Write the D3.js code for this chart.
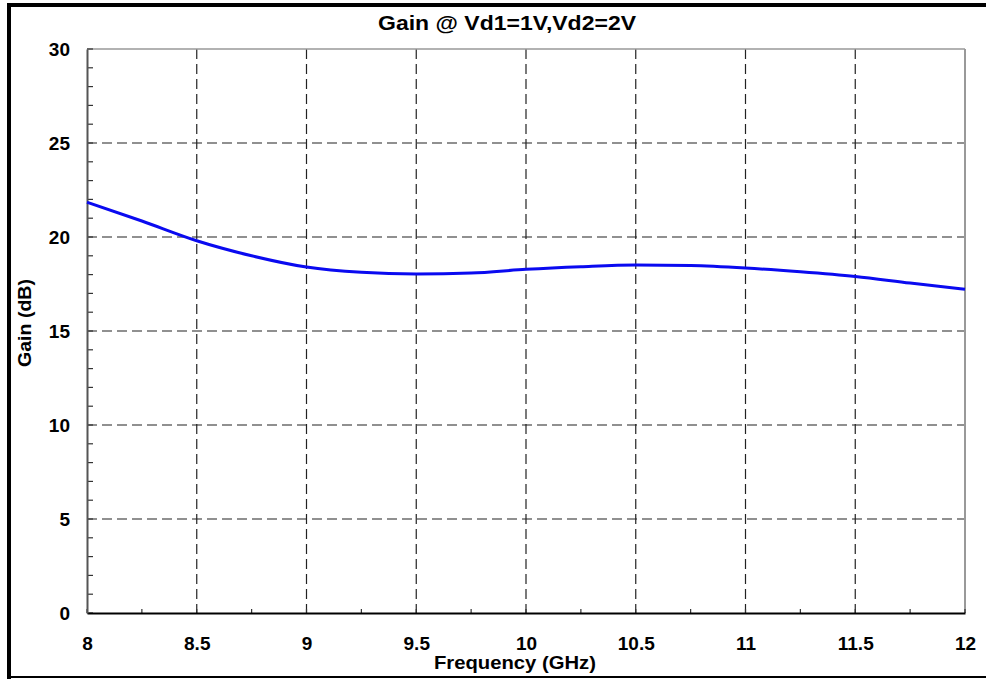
<!DOCTYPE html>
<html>
<head>
<meta charset="utf-8">
<script src="https://cdn.jsdelivr.net/npm/d3@7"></script>
<style>
  body { margin: 0; background: #fff; }
  text { font-family: "Liberation Sans", Arial, sans-serif; font-weight: bold; fill: #000; }
</style>
</head>
<body>
<div id="chart"></div>
<script>
// values
var freq = [8, 8.25, 8.5, 8.75, 9, 9.25, 9.5, 9.75, 10, 10.25, 10.5, 10.75, 11, 11.25, 11.5, 11.75, 12];
var gain = [21.85, 20.85, 19.8, 19.0, 18.4, 18.12, 18.03, 18.08, 18.28, 18.42, 18.51, 18.48, 18.35, 18.15, 17.9, 17.55, 17.22];
var xTicks = [8, 8.5, 9, 9.5, 10, 10.5, 11, 11.5, 12];
var yTicks = [0, 5, 10, 15, 20, 25, 30];
var xMinor = [8.25, 8.75, 9.25, 9.75, 10.25, 10.75, 11.25, 11.75];
var yMinor = d3.range(0, 31, 1);

var svgWidth = 986, svgHeight = 679;
var margin = { top: 49, right: 21, bottom: 66, left: 87 };
var width = svgWidth - margin.left - margin.right;
var height = svgHeight - margin.top - margin.bottom;

var svg = d3.select("#chart").append("svg")
  .attr("width", svgWidth)
  .attr("height", svgHeight);

// outer frame
svg.append("line").attr("x1", 7).attr("x2", 986).attr("y1", 5).attr("y2", 5)
  .attr("stroke", "#000").attr("stroke-width", 4);
svg.append("line").attr("x1", 9).attr("x2", 9).attr("y1", 3).attr("y2", 679)
  .attr("stroke", "#000").attr("stroke-width", 4);
svg.append("line").attr("x1", 7).attr("x2", 986).attr("y1", 677).attr("y2", 677)
  .attr("stroke", "#000").attr("stroke-width", 2);

var chartGroup = svg.append("g")
  .attr("transform", `translate(${margin.left}, ${margin.top})`);

var x = d3.scaleLinear().domain([8, 12]).range([0, width]);
var y = d3.scaleLinear().domain([0, 30]).range([height, 0]);

// dashed grid
chartGroup.selectAll(".vgrid").data(xTicks.slice(1, -1)).enter()
  .append("line")
  .attr("x1", d => x(d)).attr("x2", d => x(d))
  .attr("y1", 0).attr("y2", height)
  .attr("stroke", "#222").attr("stroke-width", 1.2)
  .attr("stroke-dasharray", "10,5");
chartGroup.selectAll(".hgrid").data(yTicks.slice(1, -1)).enter()
  .append("line")
  .attr("x1", 0).attr("x2", width)
  .attr("y1", d => y(d)).attr("y2", d => y(d))
  .attr("stroke", "#222").attr("stroke-width", 1.2)
  .attr("stroke-dasharray", "10,5");

// top and right frame of plot
chartGroup.append("line").attr("x1", 0).attr("x2", width).attr("y1", 0).attr("y2", 0)
  .attr("stroke", "#999").attr("stroke-width", 1.5);
chartGroup.append("line").attr("x1", width).attr("x2", width).attr("y1", 0).attr("y2", height)
  .attr("stroke", "#999").attr("stroke-width", 2);

// minor ticks
chartGroup.selectAll(".ymin").data(yMinor).enter()
  .append("line")
  .attr("x1", 0).attr("x2", 6)
  .attr("y1", d => y(d)).attr("y2", d => y(d))
  .attr("stroke", "#333").attr("stroke-width", 1.2);
chartGroup.selectAll(".xmin").data(xMinor.concat(xTicks)).enter()
  .append("line")
  .attr("x1", d => x(d)).attr("x2", d => x(d))
  .attr("y1", height).attr("y2", height - 4)
  .attr("stroke", "#333").attr("stroke-width", 1.2);

// axes
var bottomAxis = d3.axisBottom(x).tickValues(xTicks).tickSize(0).tickPadding(24)
  .tickFormat(d3.format("~g"));
var leftAxis = d3.axisLeft(y).tickValues(yTicks).tickSize(0).tickPadding(17);

var xAxis = chartGroup.append("g")
  .attr("transform", `translate(0, ${height})`)
  .call(bottomAxis);
xAxis.select(".domain").attr("stroke", "#000").attr("stroke-width", 2);
xAxis.selectAll("text").style("font-size", "19px").attr("fill", "#000");

var yAxis = chartGroup.append("g").call(leftAxis);
yAxis.select(".domain").attr("stroke", "#555").attr("stroke-width", 2);
yAxis.selectAll("text").style("font-size", "19px").attr("fill", "#000");

// curve
var line = d3.line()
  .x((d, i) => x(freq[i]))
  .y(d => y(d))
  .curve(d3.curveMonotoneX);
chartGroup.append("path")
  .datum(gain)
  .attr("fill", "none")
  .attr("stroke", "#0a0af0")
  .attr("stroke-width", 3)
  .attr("d", line);

// titles
svg.append("text")
  .attr("x", 507).attr("y", 30)
  .attr("text-anchor", "middle")
  .attr("textLength", 258)
  .attr("lengthAdjust", "spacingAndGlyphs")
  .style("font-size", "20.5px")
  .text("Gain @ Vd1=1V,Vd2=2V");

svg.append("text")
  .attr("x", 515).attr("y", 669)
  .attr("text-anchor", "middle")
  .attr("textLength", 162)
  .attr("lengthAdjust", "spacingAndGlyphs")
  .style("font-size", "18px")
  .text("Frequency (GHz)");

svg.append("text")
  .attr("transform", "translate(31, 323) rotate(-90)")
  .attr("text-anchor", "middle")
  .attr("textLength", 88)
  .attr("lengthAdjust", "spacingAndGlyphs")
  .style("font-size", "18px")
  .text("Gain (dB)");
</script>
</body>
</html>
